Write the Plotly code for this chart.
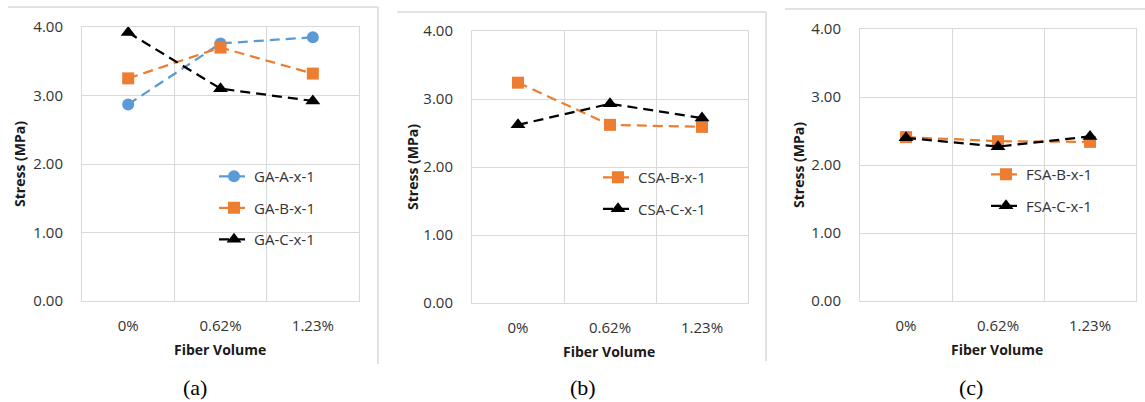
import plotly.graph_objects as go

W, H = 1145, 402

fiber_volume = ["0%", "0.62%", "1.23%"]

# (a) GA series
ga_a = [2.87, 3.76, 3.85]
ga_b = [3.25, 3.70, 3.32]
ga_c = [3.92, 3.10, 2.92]
# (b) CSA series
csa_b = [3.24, 2.62, 2.59]
csa_c = [2.62, 2.93, 2.72]
# (c) FSA series
fsa_b = [2.41, 2.35, 2.34]
fsa_c = [2.40, 2.27, 2.42]

y_ticks = [0, 1, 2, 3, 4]
y_tick_text = ["0.00", "1.00", "2.00", "3.00", "4.00"]

BLUE = "#5B9BD5"
ORANGE = "#ED7D31"
BLACK = "#000000"
GRID = "#d9d9d9"
TEXT = "#333333"
FONT = "Open Sans"

# plot areas in pixels: (left, right, top, bottom)
areas = [(82, 359, 27, 301), (472, 748, 31, 303), (860, 1136, 29, 301)]

def px_x(v):
    return v / W

def px_y(v):
    return 1 - v / H

panels = [
    [("GA-A-x-1", ga_a, BLUE, "circle", 12),
     ("GA-B-x-1", ga_b, ORANGE, "square", 12),
     ("GA-C-x-1", ga_c, BLACK, "triangle-up", 13)],
    [("CSA-B-x-1", csa_b, ORANGE, "square", 12),
     ("CSA-C-x-1", csa_c, BLACK, "triangle-up", 13)],
    [("FSA-B-x-1", fsa_b, ORANGE, "square", 12),
     ("FSA-C-x-1", fsa_c, BLACK, "triangle-up", 13)],
]

legend_pos = [(214, 160), (598, 161), (986, 158)]
ytitle_pos = [(20, 164), (412, 167), (799, 165)]
xtitle_pos = [(220, 349), (609, 351), (997, 349)]
label_pos = [(195, 387), (583, 387), (971, 387)]
labels = ["(a)", "(b)", "(c)"]

fig = go.Figure()
layout = dict(
    width=W, height=H, autosize=False,
    margin=dict(l=0, r=0, t=0, b=0, pad=0, autoexpand=False),
    paper_bgcolor="white", plot_bgcolor="white",
    showlegend=True,
    annotations=[], shapes=[],
)

x_idx = list(range(len(fiber_volume)))

for i, (area, series) in enumerate(zip(areas, panels)):
    n = "" if i == 0 else str(i + 1)
    l, r, t, b = area
    leg = "legend" + n
    for name, vals, color, sym, size in series:
        fig.add_trace(go.Scatter(
            x=x_idx, y=vals, name=name, mode="lines+markers",
            xaxis="x" + n, yaxis="y" + n, legend=leg, legendgroup=name,
            line=dict(color=color, width=2.25, dash="10px,6px"),
            marker=dict(color=color, symbol=sym, size=size),
        ))
    layout["xaxis" + n] = dict(
        domain=[px_x(l), px_x(r)], anchor="y" + n, automargin=False,
        range=[-0.5, 2.5], tickmode="array", tickvals=x_idx, ticktext=fiber_volume,
        showgrid=False, zeroline=False, ticks="",
        showline=True, linecolor=GRID, linewidth=1, mirror=True,
        minor=dict(tickmode="array", tickvals=[0.5, 1.5], showgrid=True,
                   gridcolor=GRID, gridwidth=1, ticks=""),
        tickfont=dict(family=FONT, size=15, color=TEXT),
        ticklabelstandoff=11, fixedrange=True,
    )
    layout["yaxis" + n] = dict(
        domain=[px_y(b), px_y(t)], anchor="x" + n, automargin=False,
        range=[0, 4], tickmode="array", tickvals=y_ticks, ticktext=y_tick_text,
        showgrid=True, gridcolor=GRID, gridwidth=1, zeroline=False, ticks="",
        showline=True, linecolor=GRID, linewidth=1, mirror=True,
        tickfont=dict(family=FONT, size=15, color=TEXT),
        ticklabelstandoff=15, fixedrange=True,
    )
    lx, ly = legend_pos[i]
    layout[leg] = dict(
        x=px_x(lx), y=px_y(ly), xanchor="left", yanchor="top",
        bgcolor="rgba(0,0,0,0)", tracegroupgap=9,
        font=dict(family=FONT, size=15, color=TEXT),
        itemwidth=30,
    )
    yx, yy = ytitle_pos[i]
    layout["annotations"].append(dict(
        text="<b>Stress (MPa)</b>", x=px_x(yx), y=px_y(yy), xref="paper", yref="paper",
        textangle=-90, showarrow=False, font=dict(family=FONT, size=14, color="#1a1a1a"),
        xanchor="center", yanchor="middle"))
    xx, xy = xtitle_pos[i]
    layout["annotations"].append(dict(
        text="<b>Fiber Volume</b>", x=px_x(xx), y=px_y(xy), xref="paper", yref="paper",
        showarrow=False, font=dict(family=FONT, size=14, color="#1a1a1a"),
        xanchor="center", yanchor="middle"))
    fx, fy = label_pos[i]
    layout["annotations"].append(dict(
        text=labels[i], x=px_x(fx), y=px_y(fy), xref="paper", yref="paper",
        showarrow=False, font=dict(family="Liberation Serif", size=22, color="#000000"),
        xanchor="center", yanchor="middle"))

# chart-area frames
frame = dict(type="line", xref="paper", yref="paper",
             line=dict(color=GRID, width=1.5), layer="below")
frames = [
    (8, 7, 378, 7), (378, 7, 378, 364),
    (397, 12, 766, 12), (766, 12, 766, 361),
    (785, 9, 1145, 9),
]
for x0, y0, x1, y1 in frames:
    layout["shapes"].append(dict(frame, x0=px_x(x0), y0=px_y(y0), x1=px_x(x1), y1=px_y(y1)))

fig.update_layout(**layout)
fig.write_html("out.html")
